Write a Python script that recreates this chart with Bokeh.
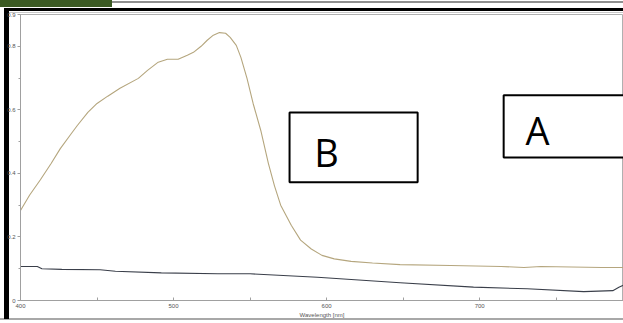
from bokeh.plotting import figure
from bokeh.models import FixedTicker, BoxAnnotation, Label, Range1d, InlineStyleSheet
from bokeh.embed import file_html
from bokeh.resources import INLINE

# Spectrum B (upper, tan curve)
wl_b = [400, 406, 413, 420, 426, 433, 437, 444, 450, 457, 465, 477, 483, 490, 496, 503,
        509, 513, 518, 522, 526, 530, 534, 537, 541, 544, 548, 552, 557, 562, 566, 570,
        577, 583, 590, 597, 605, 616, 630, 648, 681, 714, 729, 740, 780, 795]
abs_b = [0.283, 0.332, 0.380, 0.431, 0.478, 0.524, 0.550, 0.592, 0.620, 0.643, 0.668,
         0.699, 0.724, 0.750, 0.759, 0.759, 0.772, 0.781, 0.800, 0.819, 0.835, 0.843,
         0.841, 0.828, 0.803, 0.765, 0.699, 0.620, 0.535, 0.431, 0.360, 0.300, 0.236,
         0.190, 0.162, 0.142, 0.131, 0.123, 0.118, 0.113, 0.110, 0.107, 0.104, 0.107,
         0.104, 0.104]

# Spectrum A (lower, dark curve)
wl_a = [400, 411, 414, 427, 452, 462, 492, 529, 550, 594, 648, 696, 731, 768, 787, 791, 795]
abs_a = [0.107, 0.107, 0.100, 0.098, 0.097, 0.092, 0.087, 0.084, 0.084, 0.073, 0.056,
         0.042, 0.037, 0.028, 0.031, 0.042, 0.050]

x_ticks = [400, 500, 600, 700, 800]
x_minor = [450, 550, 650, 750]
y_ticks = [0, 0.2, 0.4, 0.6, 0.8, 0.9]
y_minor = [0.1, 0.3, 0.5, 0.7]

decor_css = """
:host {
  background:
    linear-gradient(#3b5a23, #3b5a23) 0px 0px / 112px 7px no-repeat,
    linear-gradient(#909090, #909090) 112px 1px / 511px 2px no-repeat,
    linear-gradient(#000000, #000000) 4px 8px / 619px 3px no-repeat,
    linear-gradient(#c8c8c8, #c8c8c8) 9px 12px / 614px 1px no-repeat,
    linear-gradient(#000000, #000000) 4px 8px / 5px 311px no-repeat,
    linear-gradient(#a8a8a8, #a8a8a8) 0px 318px / 623px 2px no-repeat,
    #ffffff;
}
"""

p = figure(width=623, height=323, output_backend="svg", toolbar_location=None,
           x_range=Range1d(400, 794), y_range=Range1d(0, 0.9),
           min_border_left=20, min_border_right=0, min_border_top=14, min_border_bottom=23,
           stylesheets=[InlineStyleSheet(css=decor_css)])
p.background_fill_color = "white"
p.border_fill_alpha = 0
p.outline_line_color = "#b0b0b0"
p.outline_line_width = 1
p.xgrid.visible = False
p.ygrid.visible = False

p.line(wl_b, abs_b, line_color="#b5a67e", line_width=1.1)
p.line(wl_a, abs_a, line_color="#3a3f4a", line_width=1.1)

for ax in (p.xaxis[0], p.yaxis[0]):
    ax.axis_line_color = "#a0a0a0"
    ax.major_tick_line_color = "#a0a0a0"
    ax.minor_tick_line_color = "#a0a0a0"
    ax.major_label_text_font = "Liberation Sans"
    ax.major_label_text_font_size = "6px"
    ax.major_label_text_color = "#555555"

p.xaxis[0].ticker = FixedTicker(ticks=x_ticks, minor_ticks=x_minor)
p.xaxis[0].major_tick_in = 3
p.xaxis[0].major_tick_out = 0
p.xaxis[0].minor_tick_in = 3
p.xaxis[0].minor_tick_out = 0
p.xaxis[0].major_label_standoff = 3
p.xaxis[0].axis_label = "Wavelength [nm]"
p.xaxis[0].axis_label_text_font = "Liberation Sans"
p.xaxis[0].axis_label_text_font_size = "6px"
p.xaxis[0].axis_label_text_font_style = "normal"
p.xaxis[0].axis_label_text_color = "#555555"
p.xaxis[0].axis_label_standoff = 1

p.yaxis[0].ticker = FixedTicker(ticks=y_ticks, minor_ticks=y_minor)
p.yaxis[0].major_tick_in = 0
p.yaxis[0].major_tick_out = 3
p.yaxis[0].minor_tick_in = 0
p.yaxis[0].minor_tick_out = 2
p.yaxis[0].major_label_standoff = 2

# Boxed labels
p.add_layout(BoxAnnotation(left=575.8, right=659.5, bottom=0.372, top=0.592,
                           fill_color="white", fill_alpha=1,
                           line_color="black", line_alpha=1, line_width=2))
p.add_layout(BoxAnnotation(left=715.7, right=800, bottom=0.450, top=0.646,
                           fill_color="white", fill_alpha=1,
                           line_color="black", line_alpha=1, line_width=2))
p.add_layout(Label(x=592, y=0.468, text="B", text_font="Open Sans", text_font_size="38px",
                   text_color="black", text_baseline="alphabetic"))
p.add_layout(Label(x=730, y=0.538, text="A", text_font="Open Sans", text_font_size="38px",
                   text_color="black", text_baseline="alphabetic"))

open("out.html", "w").write(file_html(p, INLINE))
